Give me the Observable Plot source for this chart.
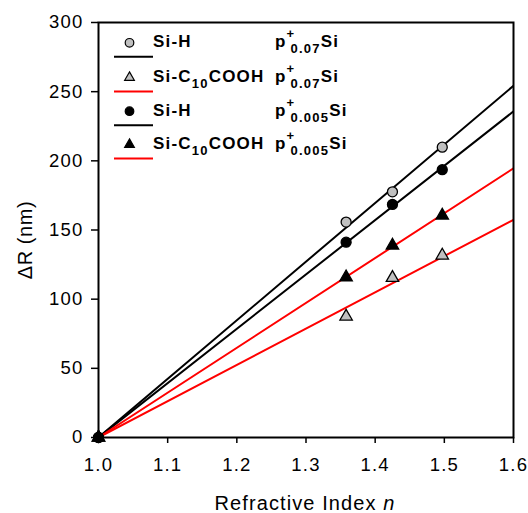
<!DOCTYPE html>
<html><head><meta charset="utf-8">
<script src="https://cdn.jsdelivr.net/npm/d3@7"></script>
<script src="https://cdn.jsdelivr.net/npm/@observablehq/plot@0.6"></script>
<style>body{margin:0;background:#fff;} svg{display:block;}</style>
</head><body><div id="chart"></div>
<script>
const xTicks = [1.0, 1.1, 1.2, 1.3, 1.4, 1.5, 1.6];
const yTicks = [0, 50, 100, 150, 200, 250, 300];
const nValues = [1.0, 1.358, 1.425, 1.497];
const siH_007 = [0, 155.7, 177.6, 209.9];
const siC_007 = [0, 87.5, 115.5, 131.6];
const siH_0005 = [0, 141.2, 168.5, 193.6];
const siC_0005 = [0, 115.9, 138.8, 160.5];
const seriesLabels = ["Si-H p+0.07Si", "Si-C10COOH p+0.07Si", "Si-H p+0.005Si", "Si-C10COOH p+0.005Si"];
const xDomain = [1.0, 1.6];
const yDomain = [0, 300];

const FONT = "'Liberation Sans', Arial, Helvetica, sans-serif";
const series = [
  {name: seriesLabels[0], values: siH_007, symbol: "circle", fill: "#c0c0c0", line: "#000000"},
  {name: seriesLabels[1], values: siC_007, symbol: "triangle", fill: "#c0c0c0", line: "#ff0000"},
  {name: seriesLabels[2], values: siH_0005, symbol: "circle", fill: "#000000", line: "#000000"},
  {name: seriesLabels[3], values: siC_0005, symbol: "triangle", fill: "#000000", line: "#ff0000"}
];
// least-squares fit through the origin point (n=1, ΔR=0)
series.forEach(s => {
  let num = 0, den = 0;
  nValues.forEach((n, i) => { const dx = n - 1; num += dx * s.values[i]; den += dx * dx; });
  s.slope = num / den;
  s.fit = xDomain.map(x => ({x, y: s.slope * (x - 1)}));
  s.points = nValues.map((n, i) => ({x: n, y: s.values[i]}));
});

const marks = [];
series.forEach(s => marks.push(Plot.line(s.fit, {x: "x", y: "y", stroke: s.line, strokeWidth: 2, clip: true})));
[1, 3, 0, 2].map(i => series[i]).forEach(s => marks.push(Plot.dot(s.points, {x: "x", y: "y", symbol: s.symbol, r: s.symbol === "circle" ? 5 : 4.6, fill: s.fill, stroke: "#000", strokeWidth: 1.3})));
marks.push(Plot.axisX({ticks: xTicks, tickFormat: d3.format(".1f"), tickSize: 6, tickPadding: 14, fontSize: 18.5, strokeWidth: 1.5, label: null}));
marks.push(Plot.axisY({ticks: yTicks, tickFormat: d3.format("d"), tickSize: 7, tickPadding: 8, fontSize: 18.5, strokeWidth: 1.5, label: null}));
marks.push(Plot.frame({stroke: "#000", strokeWidth: 2}));

const plot = Plot.plot({
  width: 528, height: 513,
  marginLeft: 98, marginRight: 15, marginTop: 22, marginBottom: 76,
  x: {domain: xDomain}, y: {domain: yDomain},
  style: {fontFamily: FONT, color: "#000", background: "#fff", overflow: "visible"},
  marks
});
document.getElementById("chart").appendChild(plot);

const svg = d3.select(plot);
svg.selectAll("g[aria-label='x-axis tick label'] text, g[aria-label='y-axis tick label'] text")
  .attr("letter-spacing", "1.2px");
// axis titles
const xt = svg.append("text").attr("x", 305).attr("y", 510).attr("text-anchor", "middle")
  .attr("font-family", FONT).attr("font-size", 20).attr("letter-spacing", "1.1px").attr("fill", "#000");
xt.append("tspan").text("Refractive Index ");
xt.append("tspan").attr("font-style", "italic").text("n");
svg.append("text").attr("transform", "translate(32,240) rotate(-90)").attr("text-anchor", "middle")
  .attr("font-family", FONT).attr("font-size", 20).attr("letter-spacing", "0.6px").attr("fill", "#000").text("ΔR (nm)");

// legend
const lg = svg.append("g").attr("font-family", FONT).attr("font-weight", "bold").attr("fill", "#000")
  .attr("text-anchor", "start").attr("letter-spacing", "1.2px");
const MAIN = 17, SMALL = 13;
function rich(x, y, parts) {
  let cx = x;
  for (const p of parts) {
    if (p.supsub) {
      const a = lg.append("text").attr("x", cx).attr("y", y - 9).attr("font-size", SMALL).text(p.sup);
      const b = lg.append("text").attr("x", cx + 4).attr("y", y + 6).attr("font-size", SMALL).text(p.sub);
      cx += Math.max(a.node().getComputedTextLength(), 4 + b.node().getComputedTextLength());
    } else if (p.sub) {
      const b = lg.append("text").attr("x", cx).attr("y", y + 6).attr("font-size", SMALL).text(p.sub);
      cx += b.node().getComputedTextLength();
    } else {
      const t = lg.append("text").attr("x", cx).attr("y", y).attr("font-size", MAIN).text(p.t);
      cx += t.node().getComputedTextLength();
    }
  }
}
const rowBase = [47.3, 82, 115.7, 149];
const nameParts = [
  [{t: "Si-H"}],
  [{t: "Si-C"}, {sub: "10"}, {t: "COOH"}],
  [{t: "Si-H"}],
  [{t: "Si-C"}, {sub: "10"}, {t: "COOH"}]
];
const dopParts = [
  [{t: "p"}, {supsub: true, sup: "+", sub: "0.07"}, {t: "Si"}],
  [{t: "p"}, {supsub: true, sup: "+", sub: "0.07"}, {t: "Si"}],
  [{t: "p"}, {supsub: true, sup: "+", sub: "0.005"}, {t: "Si"}],
  [{t: "p"}, {supsub: true, sup: "+", sub: "0.005"}, {t: "Si"}]
];
series.forEach((s, i) => {
  const yb = rowBase[i];
  const sym = s.symbol === "circle" ? d3.symbolCircle : d3.symbolTriangle;
  const size = s.symbol === "circle" ? Math.PI * 4.3 * 4.3 : Math.PI * 3.6 * 3.6;
  lg.append("path").attr("d", d3.symbol(sym, size)()).attr("transform", `translate(129.5,${yb - 4.5})`)
    .attr("fill", s.fill).attr("stroke", "#000").attr("stroke-width", 1.2);
  lg.append("line").attr("x1", 114).attr("x2", 153).attr("y1", yb + 9.5).attr("y2", yb + 9.5)
    .attr("stroke", s.line).attr("stroke-width", 2);
  rich(153, yb, nameParts[i]);
  rich(275, yb, dopParts[i]);
});
</script></body></html>
